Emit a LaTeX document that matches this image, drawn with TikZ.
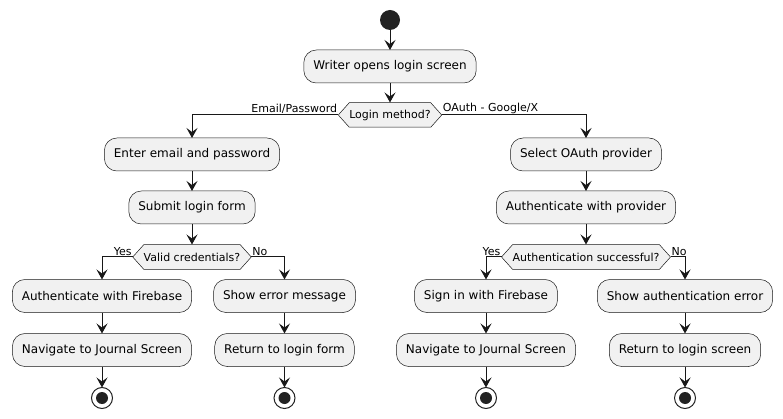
\documentclass[tikz,border=0pt]{standalone}
\usepackage{fontspec}
\setmainfont{DejaVu Sans}
\usetikzlibrary{arrows.meta,calc}
\definecolor{lineC}{HTML}{181818}
\definecolor{boxC}{HTML}{F1F1F1}
\definecolor{dotC}{HTML}{222222}
\tikzset{
  act/.style={draw=lineC, line width=0.5pt, fill=boxC, rounded corners=12.5pt,
    minimum height=33pt, inner xsep=9.5pt, inner ysep=0pt, outer sep=0pt,
    font=\fontsize{12}{14}\selectfont},
  dec/.style={minimum height=25pt, inner xsep=11pt, inner ysep=0pt, outer sep=0pt,
    font=\fontsize{11}{13}\selectfont,
    path picture={\draw[draw=lineC, fill=boxC, line width=0.5pt]
      (path picture bounding box.west)
      -- ($(path picture bounding box.north west)+(11pt,-0.25pt)$)
      -- ($(path picture bounding box.north east)+(-11pt,-0.25pt)$)
      -- (path picture bounding box.east)
      -- ($(path picture bounding box.south east)+(-11pt,0.25pt)$)
      -- ($(path picture bounding box.south west)+(11pt,0.25pt)$)
      -- cycle;}},
  arr/.style={draw=lineC, line width=1pt, -{Stealth[length=10pt,width=11pt,inset=4pt]}},
  lbl/.style={font=\fontsize{11}{13}\selectfont, inner sep=1pt, text=black},
  startnode/.style={circle, fill=dotC, minimum size=20pt, inner sep=0pt, outer sep=0pt},
  endnode/.style={circle, draw=dotC, line width=1pt, fill=white, minimum size=21pt,
    inner sep=0pt, outer sep=0pt,
    path picture={\fill[dotC] (path picture bounding box.center) circle (6pt);}}
}
\begin{document}
\begin{tikzpicture}[x=1pt,y=-1pt]
\useasboundingbox (0,0) rectangle (783,419);
\node[startnode] (start) at (390,20) {};
\node[act] (writer) at (390,66.5) {Writer opens login screen};
\node[dec] (login) at (390,115) {Login method?};
\node[act] (enter) at (192,154.5) {Enter email and password};
\node[act] (submit) at (192,207.5) {Submit login form};
\node[dec] (valid) at (192,257) {Valid credentials?};
\node[act] (authfb) at (102,296) {Authenticate with Firebase};
\node[act] (nav1) at (102,350) {Navigate to Journal Screen};
\node[endnode] (end1) at (102,398) {};
\node[act] (showerr) at (284.5,296) {Show error message};
\node[act] (retform) at (284.5,350) {Return to login form};
\node[endnode] (end2) at (284.5,398) {};
\node[act] (select) at (586,154.5) {Select OAuth provider};
\node[act] (authprov) at (586,207.5) {Authenticate with provider};
\node[dec] (succ) at (586,257) {Authentication successful?};
\node[act] (signin) at (486,296) {Sign in with Firebase};
\node[act] (nav2) at (486,350) {Navigate to Journal Screen};
\node[endnode] (end3) at (486,398) {};
\node[act] (showauth) at (685,296) {Show authentication error};
\node[act] (retscreen) at (685,350) {Return to login screen};
\node[endnode] (end4) at (685,398) {};

\draw[arr] (start) -- (writer);
\draw[arr] (writer) -- (login);
\draw[arr] (login.west) -| (enter.north);
\draw[arr] (login.east) -| (select.north);
\draw[arr] (enter) -- (submit);
\draw[arr] (submit) -- (valid);
\draw[arr] (valid.west) -| (authfb.north);
\draw[arr] (valid.east) -| (showerr.north);
\draw[arr] (authfb) -- (nav1);
\draw[arr] (nav1) -- (end1);
\draw[arr] (showerr) -- (retform);
\draw[arr] (retform) -- (end2);
\draw[arr] (select) -- (authprov);
\draw[arr] (authprov) -- (succ);
\draw[arr] (succ.west) -| (signin.north);
\draw[arr] (succ.east) -| (showauth.north);
\draw[arr] (signin) -- (nav2);
\draw[arr] (nav2) -- (end3);
\draw[arr] (showauth) -- (retscreen);
\draw[arr] (retscreen) -- (end4);

\node[lbl, anchor=south east] (l1) at (login.west) {Email/Password};
\node[lbl, anchor=south west] (l2) at (login.east) {OAuth - Google/X};
\node[lbl, anchor=south east] (l3) at (valid.west) {Yes};
\node[lbl, anchor=south west] (l4) at (valid.east) {No};
\node[lbl, anchor=south east] (l5) at (succ.west) {Yes};
\node[lbl, anchor=south west] (l6) at (succ.east) {No};
\end{tikzpicture}
\end{document}
